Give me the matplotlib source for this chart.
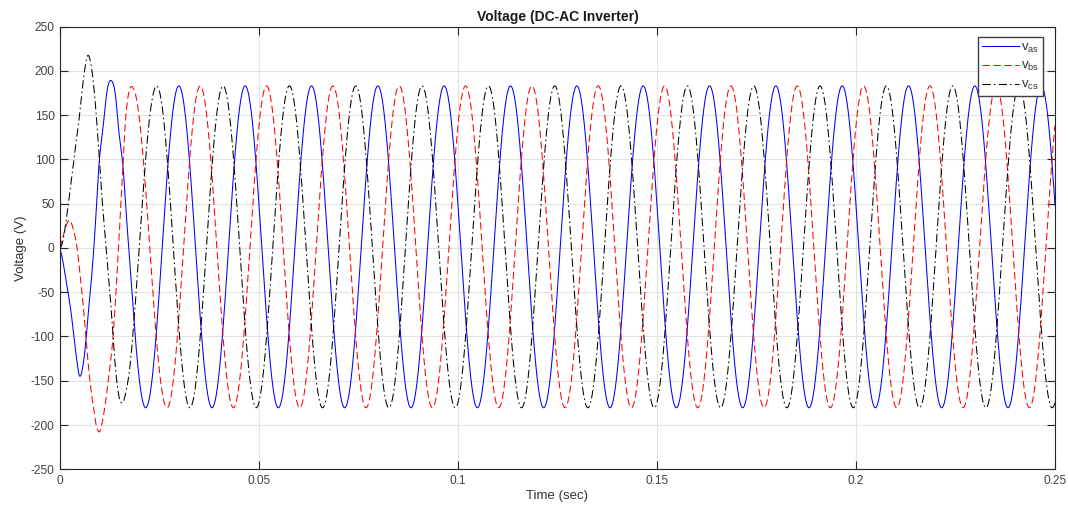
import numpy as np
import matplotlib
matplotlib.use("Agg")
import matplotlib.pyplot as plt
from matplotlib.ticker import FixedLocator, FuncFormatter

plt.rcParams['font.family'] = ['Liberation Sans', 'DejaVu Sans']
plt.rcParams['mathtext.fontset'] = 'custom'
plt.rcParams['mathtext.rm'] = 'Liberation Sans'

# ---------------- data ----------------
series_labels = [r'$\mathregular{v_{as}}$', r'$\mathregular{v_{bs}}$', r'$\mathregular{v_{cs}}$']
series_colors = ['#0000ff', '#ff0000', '#000000']
series_styles = ['-', (0, (7, 3.5)), (0, (8, 3, 1.5, 3))]

# steady state (after start-up)
freq_hz = 60.0
amp_v = 181.75
offset_v = 1.25
peak_phase_deg = [285.0, 401.0, 165.0]      # phase angle of the cosine peak, per series

# start-up transient, digitized (time s, voltage V)
vas_t = [0, 0.0008, 0.0015, 0.0029, 0.0042, 0.00485, 0.0058, 0.0064, 0.0071, 0.0079,
         0.0085, 0.0091, 0.0097, 0.0109, 0.0118, 0.0129, 0.0140, 0.01466, 0.0159,
         0.01675, 0.01742]
vas_v = [0, -17, -36, -77, -126, -144, -132, -110, -73, -35,
         0, 42, 88, 140, 177, 189, 170, 137, 88,
         32, -9.5]
vas_join = 0.0214

vbs_t = [0, 0.0005, 0.0013, 0.0025, 0.0034, 0.0042, 0.0050, 0.0059, 0.0067, 0.0075,
         0.00837, 0.00905, 0.01005, 0.0109, 0.01214, 0.0134, 0.0142, 0.0147, 0.0151,
         0.01575, 0.01633, 0.0170, 0.01842]
vbs_v = [0, 8, 22, 31, 20, 3, -28, -68, -111, -149,
         -179, -199, -207, -190, -149, -96, -40, 0, 32,
         88, 137, 168, 180.5]
vbs_join = 0.0269

vcs_t = [0, 0.0021, 0.0035, 0.0049, 0.0061, 0.0069, 0.0080, 0.00963, 0.01047, 0.01156,
         0.01214, 0.01299, 0.01382, 0.0147, 0.01566, 0.0166, 0.01759, 0.01842]
vcs_v = [0, 50, 100, 150, 198, 217, 201, 118, 62, 2,
         -28, -77, -130, -165, -175, -162, -133, -92]
vcs_join = 0.0243

t_end = 0.25
x_ticks = [0, 0.05, 0.1, 0.15, 0.2, 0.25]
y_ticks = [-250, -200, -150, -100, -50, 0, 50, 100, 150, 200, 250]

# ---------------- build waveforms ----------------
t = np.linspace(0, t_end, 25001)


def steady(tt, phase_deg):
    tt = np.asarray(tt, dtype=float)
    return offset_v + amp_v * np.cos(2 * np.pi * freq_hz * tt - np.deg2rad(phase_deg))


def hermite(tk, yk, mk, tt):
    tk = np.asarray(tk, float)
    yk = np.asarray(yk, float)
    idx = np.clip(np.searchsorted(tk, tt) - 1, 0, len(tk) - 2)
    h = tk[idx + 1] - tk[idx]
    s = (tt - tk[idx]) / h
    h00 = 2 * s**3 - 3 * s**2 + 1
    h10 = s**3 - 2 * s**2 + s
    h01 = -2 * s**3 + 3 * s**2
    h11 = s**3 - s**2
    return h00 * yk[idx] + h10 * h * mk[idx] + h01 * yk[idx + 1] + h11 * h * mk[idx + 1]


def waveform(pts_t, pts_v, join, phase_deg):
    ss = steady(t, phase_deg)
    tk = np.array(list(pts_t) + [join], float)
    dev = np.array(list(np.asarray(pts_v) - steady(pts_t, phase_deg)) + [0.0])
    mk = np.gradient(dev, tk)
    mk[-1] = 0.0
    out = ss.copy()
    m = t <= join
    out[m] = ss[m] + hermite(tk, dev, mk, t[m])
    return out


series = [
    waveform(vas_t, vas_v, vas_join, peak_phase_deg[0]),
    waveform(vbs_t, vbs_v, vbs_join, peak_phase_deg[1]),
    waveform(vcs_t, vcs_v, vcs_join, peak_phase_deg[2]),
]

# ---------------- figure ----------------
fig = plt.figure(figsize=(10.68, 5.09), dpi=100)
ax = fig.add_axes([60 / 1068, 1 - 469.3 / 509, 995 / 1068, 442.7 / 509])

for y, lab, col, ls in zip(series, series_labels, series_colors, series_styles):
    ax.plot(t, y, color=col, linestyle=ls, linewidth=0.75, label=lab)

ax.set_xlim(0, t_end)
ax.set_ylim(-250, 250)
ax.xaxis.set_major_locator(FixedLocator(x_ticks))
ax.yaxis.set_major_locator(FixedLocator(y_ticks))
ax.xaxis.set_major_formatter(FuncFormatter(lambda v, p: '%g' % round(v, 4)))
ax.yaxis.set_major_formatter(FuncFormatter(lambda v, p: '%g' % v))

ax.grid(True, color='#e3e3e3', linewidth=0.8)
ax.set_axisbelow(True)
for sp in ax.spines.values():
    sp.set_color('#262626')
    sp.set_linewidth(0.8)
ax.tick_params(direction='in', length=6, width=0.8, color='#262626',
               labelcolor='#404040', labelsize=8.6, pad=4,
               top=True, right=True)

ax.set_title('Voltage (DC-AC Inverter)', fontsize=10, fontweight='bold',
             color='#1a1a1a', pad=4)
ax.set_xlabel('Time (sec)', fontsize=9.5, color='#333333', labelpad=2)
ax.set_ylabel('Voltage (V)', fontsize=9.5, color='#333333', labelpad=3)

leg = ax.legend(loc='upper right', bbox_to_anchor=(0.988, 0.976), borderaxespad=0,
                fontsize=9.5, handlelength=2.8, handletextpad=0.15, labelspacing=0.42,
                borderpad=0.3, fancybox=False, framealpha=1, edgecolor='#404040')
leg.get_frame().set_linewidth(1.0)
for txt in leg.get_texts():
    txt.set_color('#333333')

fig.savefig('out.png', dpi=100)
